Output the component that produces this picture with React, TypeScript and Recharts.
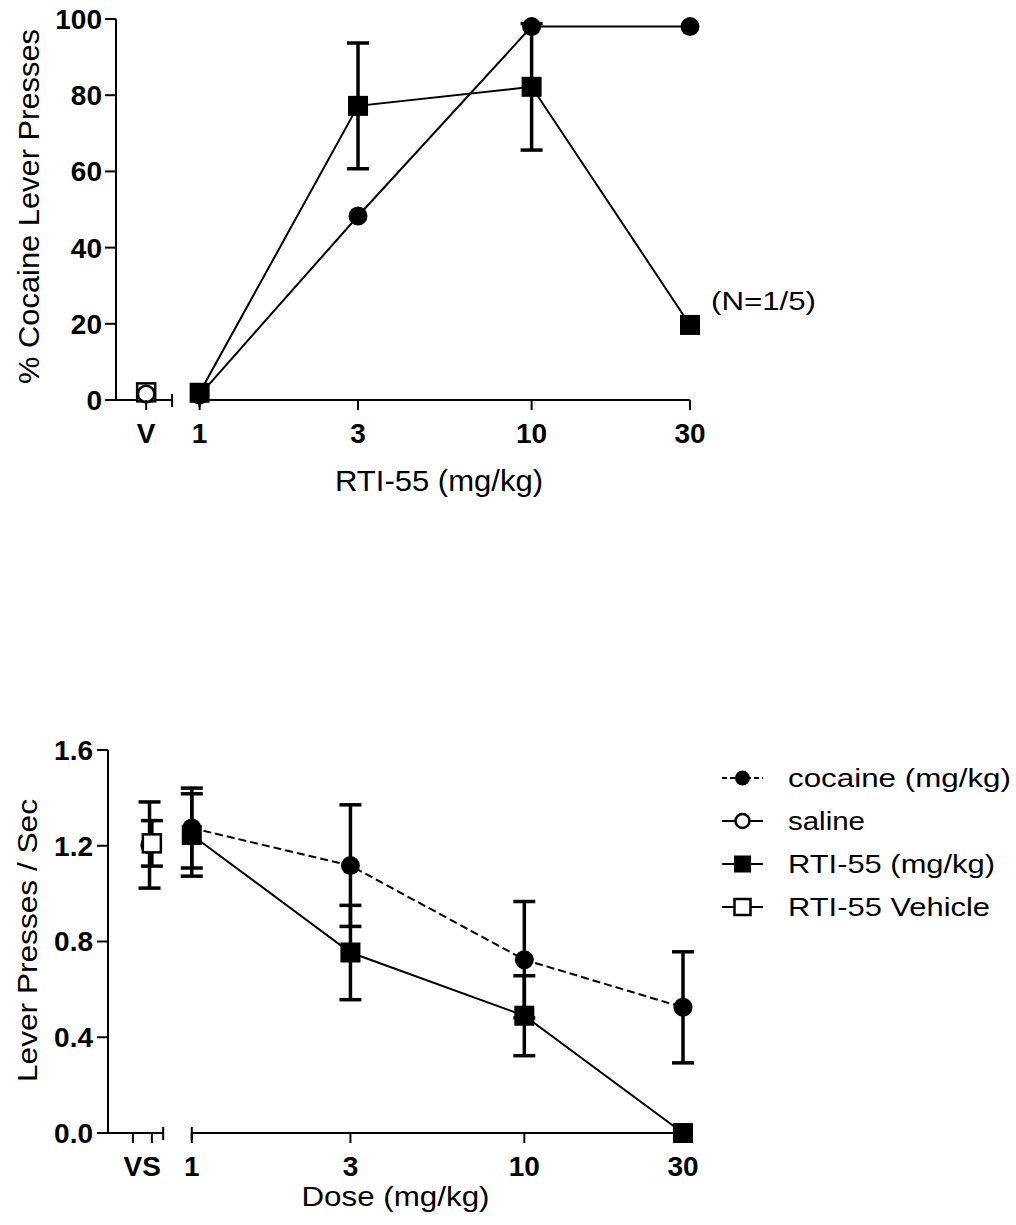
import React from 'react';
import {
  ErrorBar,
  Legend,
  Line,
  LineChart,
  ReferenceDot,
  ReferenceLine,
  XAxis,
  YAxis,
} from 'recharts';

const FONT = '"Liberation Sans", Arial, Helvetica, sans-serif';

// top panel: % responding on the cocaine lever
const TOP_DOSES = [1, 3, 10, 30];
const TOP_COCAINE = [1.3, 48.3, 98, 98];
const TOP_RTI = [1.9, 77.2, 82.2, 19.7];
const TOP_RTI_SEM = [0, 16.5, 16.6, 0];
const TOP_SALINE = 1.6;
const TOP_VEHICLE = 2.0;
const TOP_Y_TICKS = [0, 20, 40, 60, 80, 100];
const TOP_X_LABELS = ['V', '1', '3', '10', '30'];

// bottom panel: response rate
const BOT_DOSES = [1, 3, 10, 30];
const BOT_COCAINE = [1.274, 1.117, 0.724, 0.525];
const BOT_COCAINE_SEM = [0.167, 0.254, 0.243, 0.232];
const BOT_RTI = [1.245, 0.754, 0.49, 0];
const BOT_RTI_SEM = [0.172, 0.197, 0.167, 0];
const BOT_SALINE = 1.203;
const BOT_SALINE_SEM = 0.18;
const BOT_VEHICLE = 1.21;
const BOT_VEHICLE_SEM = 0.095;
const BOT_Y_TICKS = [0, 0.4, 0.8, 1.2, 1.6];
const BOT_X_LABELS = ['VS', '1', '3', '10', '30'];

const LEGEND_LABELS = ['cocaine (mg/kg)', 'saline', 'RTI-55 (mg/kg)', 'RTI-55 Vehicle'];

// x axis is log10(dose); the vehicle/saline columns sit left of a break
const lg = Math.log10;
const X_MAX = lg(30);
const X_MIN = X_MAX - 1.729;
const TOP_V = -0.161;
const TOP_BREAK = -0.083;
const BOT_V = -0.177;
const BOT_S = -0.12;
const BOT_VS_MID = -0.149;
const BOT_BREAK = -0.086;
const BOT_SALINE_X = -0.127;

const topRows = [
  { x: TOP_V, saline: TOP_SALINE, vehicle: TOP_VEHICLE },
  ...TOP_DOSES.map((d, i) => ({
    x: lg(d),
    cocaine: TOP_COCAINE[i],
    rti: TOP_RTI[i],
    rtiSem: TOP_RTI_SEM[i],
  })),
];

const botRows = [
  { x: BOT_SALINE_X, saline: BOT_SALINE, salineSem: BOT_SALINE_SEM },
  { x: BOT_S, vehicle: BOT_VEHICLE, vehicleSem: BOT_VEHICLE_SEM },
  ...BOT_DOSES.map((d, i) => ({
    x: lg(d),
    cocaine: BOT_COCAINE[i],
    cocaineSem: BOT_COCAINE_SEM[i],
    rti: BOT_RTI[i],
    rtiSem: BOT_RTI_SEM[i],
  })),
];

type TickSpec = { at: number; label?: string; line: boolean };

const topTicks: TickSpec[] = [
  { at: TOP_V, label: TOP_X_LABELS[0], line: true },
  ...TOP_DOSES.map((d, i) => ({ at: lg(d), label: TOP_X_LABELS[i + 1], line: true })),
];

const botTicks: TickSpec[] = [
  { at: BOT_V, line: true },
  { at: BOT_VS_MID, label: BOT_X_LABELS[0], line: false },
  { at: BOT_S, line: true },
  ...BOT_DOSES.map((d, i) => ({ at: lg(d), label: BOT_X_LABELS[i + 1], line: true })),
];

const makeTick = (specs: TickSpec[]) => (p: any) => {
  const s = specs.find((t) => Math.abs(t.at - p.payload.value) < 1e-6);
  if (!s) return <g />;
  return (
    <g>
      {s.line && (
        <line x1={p.x} x2={p.x} y1={p.y} y2={p.y + 10} stroke="#000" strokeWidth={2} />
      )}
      {s.label && (
        <text
          x={p.x}
          y={p.y + 43}
          textAnchor="middle"
          fontSize={28}
          fontWeight="bold"
          fontFamily={FONT}
          fill="#000"
        >
          {s.label}
        </text>
      )}
    </g>
  );
};

const breakCap = (p: any) => {
  const yb = Math.max(p.y1, p.y2);
  return <line x1={p.x1} x2={p.x1} y1={yb - 6} y2={yb + 7} stroke="#000" strokeWidth={2} />;
};

const marker =
  (kind: 'circle' | 'square', filled: boolean, size: number) => (p: any) => {
    const { cx, cy, value, index } = p;
    if (cx == null || cy == null || value == null) return <g key={`n${index}`} />;
    const fill = filled ? '#000' : '#fff';
    const sw = filled ? 0 : 2.5;
    if (kind === 'circle') {
      return <circle key={`d${index}`} cx={cx} cy={cy} r={size / 2} fill={fill} stroke="#000" strokeWidth={sw} />;
    }
    return (
      <rect
        key={`d${index}`}
        x={cx - size / 2}
        y={cy - size / 2}
        width={size}
        height={size}
        fill={fill}
        stroke="#000"
        strokeWidth={sw}
      />
    );
  };

const Title = ({ x, y, size, len, rotate, children }: any) => (
  <text
    x={x}
    y={y}
    fontSize={size}
    fontFamily={FONT}
    fill="#000"
    textAnchor="middle"
    dominantBaseline={rotate ? 'central' : undefined}
    textLength={len}
    lengthAdjust="spacingAndGlyphs"
    transform={rotate ? `rotate(${rotate} ${x} ${y})` : undefined}
  >
    {children}
  </text>
);

const LEGEND_STYLE = [
  { kind: 'circle', filled: true, dash: '5 3', size: 15 },
  { kind: 'circle', filled: false, dash: undefined, size: 14 },
  { kind: 'square', filled: true, dash: undefined, size: 17 },
  { kind: 'square', filled: false, dash: undefined, size: 16 },
] as const;
const LEGEND_LEN = [223, 77, 207, 202];

const BottomLegend = () => (
  <svg width={300} height={190}>
    {LEGEND_LABELS.map((label, i) => {
      const y = 28 + i * 43;
      const st = LEGEND_STYLE[i];
      return (
        <g key={label}>
          <line x1={7} x2={48} y1={y} y2={y} stroke="#000" strokeWidth={2} strokeDasharray={st.dash} />
          {marker(st.kind, st.filled, st.size)({ cx: 27.5, cy: y, value: 1, index: i })}
          <text
            x={73}
            y={y + 9}
            fontSize={26}
            fontFamily={FONT}
            fill="#000"
            textLength={LEGEND_LEN[i]}
            lengthAdjust="spacingAndGlyphs"
          >
            {label}
          </text>
        </g>
      );
    })}
  </svg>
);

const axisStroke = { stroke: '#000', strokeWidth: 2 };
const yTickStyle = { fontSize: 28, fontWeight: 'bold', fill: '#000', fontFamily: FONT };

function TopChart() {
  return (
    <LineChart
      width={1016}
      height={500}
      data={topRows}
      margin={{ top: 19, right: 326, bottom: 0, left: 0 }}
    >
      <XAxis
        dataKey="x"
        type="number"
        domain={[X_MIN, X_MAX]}
        ticks={topTicks.map((t) => t.at)}
        interval={0}
        axisLine={false}
        tickLine={false}
        tickSize={0}
        tickMargin={0}
        height={100}
        tick={makeTick(topTicks)}
        label={(p: any) => (
          <Title x={p.viewBox.x + p.viewBox.width / 2 + 36} y={p.viewBox.y + 91} size={30} len={208}>
            RTI-55 (mg/kg)
          </Title>
        )}
      />
      <YAxis
        type="number"
        domain={[0, 100]}
        ticks={TOP_Y_TICKS}
        interval={0}
        width={116}
        axisLine={axisStroke}
        tickLine={axisStroke}
        tickSize={11}
        tickMargin={3}
        tick={yTickStyle}
        label={(p: any) => (
          <Title x={p.viewBox.x + 28.5} y={p.viewBox.y + p.viewBox.height / 2 - 3} size={30} len={355} rotate={-90}>
            % Cocaine Lever Presses
          </Title>
        )}
      />
      <ReferenceLine segment={[{ x: X_MIN, y: 0 }, { x: TOP_BREAK, y: 0 }]} stroke="#000" strokeWidth={2} ifOverflow="visible" />
      <ReferenceLine segment={[{ x: 0, y: 0 }, { x: X_MAX, y: 0 }]} stroke="#000" strokeWidth={2} ifOverflow="visible" />
      <ReferenceLine x={TOP_BREAK} shape={breakCap} ifOverflow="visible" />
      <ReferenceLine x={0} shape={breakCap} ifOverflow="visible" />
      <Line
        dataKey="vehicle"
        stroke="#000"
        dot={marker('square', false, 18)}
        activeDot={false}
        isAnimationActive={false}
      />
      <Line
        dataKey="saline"
        stroke="#000"
        dot={marker('circle', false, 16.5)}
        activeDot={false}
        isAnimationActive={false}
      />
      <Line
        dataKey="cocaine"
        stroke="#000"
        strokeWidth={2}
        dot={marker('circle', true, 19)}
        activeDot={false}
        isAnimationActive={false}
      />
      <Line
        dataKey="rti"
        stroke="#000"
        strokeWidth={2}
        dot={marker('square', true, 20)}
        activeDot={false}
        isAnimationActive={false}
      >
        <ErrorBar dataKey="rtiSem" width={11} strokeWidth={3.5} stroke="#000" direction="y" />
      </Line>
      <ReferenceDot
        x={X_MAX}
        y={TOP_RTI[3]}
        r={0}
        fill="none"
        stroke="none"
        label={(p: any) => (
          <text
            x={p.viewBox.x + p.viewBox.width / 2 + 21}
            y={p.viewBox.y + p.viewBox.height / 2 - 15}
            fontSize={26}
            fontFamily={FONT}
            fill="#000"
            textLength={105}
            lengthAdjust="spacingAndGlyphs"
          >
            (N=1/5)
          </text>
        )}
      />
    </LineChart>
  );
}

function BottomChart() {
  return (
    <LineChart
      width={1016}
      height={525}
      data={botRows}
      margin={{ top: 50, right: 333, bottom: 0, left: 0 }}
    >
      <XAxis
        dataKey="x"
        type="number"
        domain={[X_MIN, X_MAX]}
        ticks={botTicks.map((t) => t.at)}
        interval={0}
        axisLine={false}
        tickLine={false}
        tickSize={0}
        tickMargin={0}
        height={92}
        tick={makeTick(botTicks)}
        label={(p: any) => (
          <Title x={p.viewBox.x + p.viewBox.width / 2} y={p.viewBox.y + 73} size={27} len={188}>
            Dose (mg/kg)
          </Title>
        )}
      />
      <YAxis
        type="number"
        domain={[0, 1.6]}
        ticks={BOT_Y_TICKS}
        interval={0}
        width={108}
        axisLine={axisStroke}
        tickLine={axisStroke}
        tickSize={11}
        tickMargin={4}
        tick={yTickStyle}
        tickFormatter={(v: number) => v.toFixed(1)}
        label={(p: any) => (
          <Title x={p.viewBox.x + 27} y={p.viewBox.y + p.viewBox.height / 2 - 1} size={28} len={283} rotate={-90}>
            Lever Presses / Sec
          </Title>
        )}
      />
      <ReferenceLine segment={[{ x: X_MIN, y: 0 }, { x: BOT_BREAK, y: 0 }]} stroke="#000" strokeWidth={2} ifOverflow="visible" />
      <ReferenceLine segment={[{ x: 0, y: 0 }, { x: X_MAX, y: 0 }]} stroke="#000" strokeWidth={2} ifOverflow="visible" />
      <ReferenceLine x={BOT_BREAK} shape={breakCap} ifOverflow="visible" />
      <ReferenceLine x={0} shape={breakCap} ifOverflow="visible" />
      <Line
        dataKey="saline"
        stroke="#000"
        dot={marker('circle', false, 16)}
        activeDot={false}
        isAnimationActive={false}
      >
        <ErrorBar dataKey="salineSem" width={11} strokeWidth={3.5} stroke="#000" direction="y" />
      </Line>
      <Line
        dataKey="vehicle"
        stroke="#000"
        dot={marker('square', false, 18)}
        activeDot={false}
        isAnimationActive={false}
      >
        <ErrorBar dataKey="vehicleSem" width={11} strokeWidth={3.5} stroke="#000" direction="y" />
      </Line>
      <Line
        dataKey="cocaine"
        stroke="#000"
        strokeWidth={2}
        strokeDasharray="8 4"
        dot={marker('circle', true, 19)}
        activeDot={false}
        isAnimationActive={false}
      >
        <ErrorBar dataKey="cocaineSem" width={11} strokeWidth={3.5} stroke="#000" direction="y" />
      </Line>
      <Line
        dataKey="rti"
        stroke="#000"
        strokeWidth={2}
        dot={marker('square', true, 20)}
        activeDot={false}
        isAnimationActive={false}
      >
        <ErrorBar dataKey="rtiSem" width={11} strokeWidth={3.5} stroke="#000" direction="y" />
      </Line>
      <Legend
        layout="vertical"
        align="center"
        verticalAlign="middle"
        content={() => <BottomLegend />}
        wrapperStyle={{ position: 'absolute', left: 715, top: 50, width: 300, height: 190 }}
      />
    </LineChart>
  );
}

export default function App() {
  return (
    <div
      style={{
        position: 'absolute',
        left: 0,
        top: 0,
        width: 1016,
        height: 1225,
        background: '#fff',
        fontFamily: FONT,
      }}
    >
      <div style={{ position: 'absolute', left: 0, top: 0 }}>
        <TopChart />
      </div>
      <div style={{ position: 'absolute', left: 0, top: 700 }}>
        <BottomChart />
      </div>
    </div>
  );
}
